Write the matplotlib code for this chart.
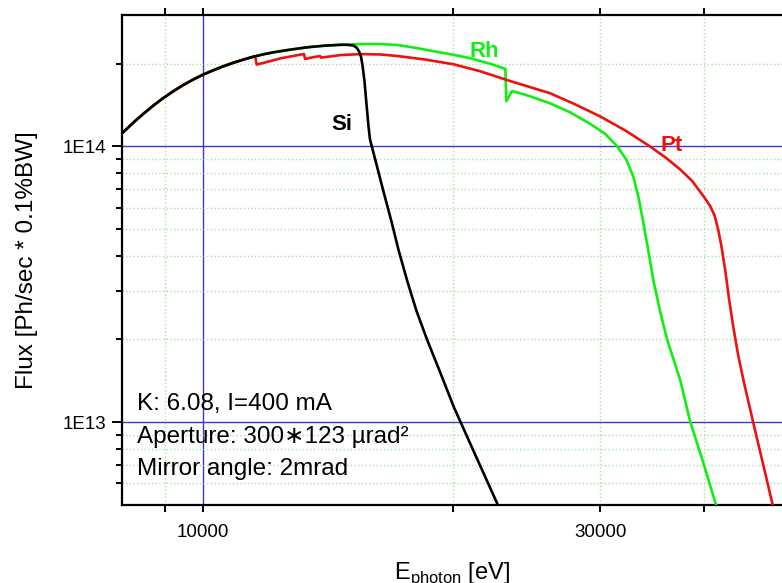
import matplotlib
matplotlib.use('Agg')
import matplotlib.pyplot as plt
from matplotlib.ticker import FixedLocator, FixedFormatter

plt.rcParams['font.family'] = ['Liberation Sans', 'DejaVu Sans']
plt.rcParams['mathtext.fontset'] = 'custom'
plt.rcParams['mathtext.rm'] = 'Liberation Sans'

# photon energy [eV] and flux [Ph/sec * 0.1%BW]
# (all three mirrors coincide below the Pt L3 edge)
e_si = [8020, 8243, 8474, 8710, 8953, 9205, 9463, 9728, 10000, 10280, 10568,
        10864, 11168, 11514, 11836, 12167, 12752, 13364, 13966, 14637, 14923,
        15173, 15299, 15405, 15490, 15554, 15640, 15727, 15814, 15880, 16168,
        16483, 16851, 17180, 17598, 18056, 18597, 19291, 20012, 21250, 22561]
f_si = [1.124e14, 1.216e14, 1.309e14, 1.402e14, 1.494e14, 1.582e14, 1.667e14,
        1.746e14, 1.820e14, 1.887e14, 1.950e14, 2.009e14, 2.063e14, 2.119e14,
        2.161e14, 2.197e14, 2.247e14, 2.291e14, 2.320e14, 2.339e14, 2.338e14,
        2.324e14, 2.285e14, 2.215e14, 2.116e14, 1.970e14, 1.723e14, 1.421e14,
        1.182e14, 1.060e14, 8.60e13, 6.86e13, 5.34e13, 4.22e13, 3.256e13,
        2.533e13, 1.987e13, 1.508e13, 1.137e13, 7.59e12, 5.08e12]

e_rh = [8020, 8243, 8474, 8710, 8953, 9205, 9463, 9728, 10000, 10280, 10568,
        10864, 11168, 11514, 11836, 12167, 12752, 13364, 13966, 14637, 15173,
        15760, 16346, 17122, 18002, 19026, 20012, 20958, 22148, 23084, 23148,
        23515, 24059, 24733, 26141, 27627, 29199, 30436, 31460, 32251, 32880,
        33365, 33754, 34175, 34746, 35425, 36116, 37436, 38485, 39923, 41347]
f_rh = [1.124e14, 1.216e14, 1.309e14, 1.402e14, 1.494e14, 1.582e14, 1.667e14,
        1.746e14, 1.820e14, 1.887e14, 1.950e14, 2.009e14, 2.063e14, 2.119e14,
        2.161e14, 2.197e14, 2.247e14, 2.291e14, 2.320e14, 2.339e14, 2.349e14,
        2.355e14, 2.353e14, 2.335e14, 2.281e14, 2.210e14, 2.151e14, 2.089e14,
        1.995e14, 1.913e14, 1.461e14, 1.589e14, 1.559e14, 1.520e14, 1.433e14,
        1.329e14, 1.207e14, 1.110e14, 1.0e14, 8.97e13, 7.78e13, 6.52e13,
        5.43e13, 4.40e13, 3.284e13, 2.512e13, 1.987e13, 1.421e13, 1.003e13,
        7.08e12, 4.99e12]

e_pt = [8020, 8243, 8474, 8710, 8953, 9205, 9463, 9728, 10000, 10280, 10568,
        10864, 11168, 11514, 11562, 11610, 11902, 12405, 13228, 13272, 13550,
        13834, 13873, 14637, 15469, 16346, 17122, 18510, 20012, 21544, 23407,
        26141, 28011, 30009, 32162, 34446, 36016, 37436, 38698, 39923, 40668,
        41176, 41576, 41922, 42388, 42858, 43370, 43937, 44582, 45831, 47072,
        48349]
f_pt = [1.124e14, 1.216e14, 1.309e14, 1.402e14, 1.494e14, 1.582e14, 1.667e14,
        1.746e14, 1.820e14, 1.887e14, 1.950e14, 2.009e14, 2.063e14, 2.119e14,
        2.115e14, 1.982e14, 2.020e14, 2.089e14, 2.166e14, 2.077e14, 2.107e14,
        2.128e14, 2.101e14, 2.146e14, 2.164e14, 2.157e14, 2.130e14, 2.067e14,
        1.987e14, 1.874e14, 1.727e14, 1.559e14, 1.421e14, 1.285e14, 1.143e14,
        1.0e14, 9.08e13, 8.25e13, 7.49e13, 6.60e13, 6.08e13, 5.61e13, 4.99e13,
        4.40e13, 3.57e13, 2.78e13, 2.197e13, 1.752e13, 1.421e13, 9.89e12,
        7.04e12, 4.99e12]

x_major = [10000]
x_minor = [9000, 20000, 30000, 40000]
x_minor_labels = ['', '', '30000', '']
y_major = [1e13, 1e14]
y_major_labels = ['1E13', '1E14']
y_minor = [6e12, 7e12, 8e12, 9e12, 2e13, 3e13, 4e13, 5e13, 6e13, 7e13, 8e13,
           9e13, 2e14]

fig = plt.figure(figsize=(7.82, 5.83), dpi=100)
ax = fig.add_axes([122 / 782, 78 / 583, 660 / 782, 490 / 583])

ax.plot(e_rh, f_rh, color='#11ee11', lw=1.9, zorder=3)
ax.plot(e_pt, f_pt, color='#ee1111', lw=1.9, zorder=4)
ax.plot(e_si, f_si, color='black', lw=1.9, zorder=5)

ax.set_xscale('log')
ax.set_yscale('log')
ax.set_xlim(8000, 49600)
ax.set_ylim(5e12, 3e14)

ax.xaxis.set_major_locator(FixedLocator(x_major))
ax.xaxis.set_major_formatter(FixedFormatter(['10000']))
ax.xaxis.set_minor_locator(FixedLocator(x_minor))
ax.xaxis.set_minor_formatter(FixedFormatter(x_minor_labels))
ax.yaxis.set_major_locator(FixedLocator(y_major))
ax.yaxis.set_major_formatter(FixedFormatter(y_major_labels))
ax.yaxis.set_minor_locator(FixedLocator(y_minor))
ax.yaxis.set_minor_formatter(FixedFormatter([''] * len(y_minor)))

ax.grid(which='major', color='#3838d0', lw=1.0, ls='-', zorder=1)
ax.grid(which='minor', color='#a8e0a8', lw=1.0, ls=':', zorder=1)
ax.set_axisbelow(True)

for s in ['left', 'bottom', 'top']:
    ax.spines[s].set_linewidth(1.6)
ax.spines['right'].set_visible(False)

ax.tick_params(axis='x', which='both', direction='out', top=True, length=5,
               width=1.4, labelsize=13.5, pad=9)
ax.tick_params(axis='y', which='major', direction='out', length=7, width=1.4,
               labelsize=13.5, pad=4)
ax.tick_params(axis='y', which='minor', direction='out', length=4, width=1.4)

ax.set_ylabel('Flux [Ph/sec * 0.1%BW]', fontsize=17.5)
ax.yaxis.set_label_coords(-0.128, 0.5)
fig.text(452 / 782, 4 / 583, r'E$_{\mathregular{photon}}$ [eV]', fontsize=17,
         ha='center', va='baseline')

ax.text(14680, 1.2e14, 'Si', fontsize=16, fontweight='bold', color='black',
        ha='center', va='center')
ax.text(21790, 2.215e14, 'Rh', fontsize=16, fontweight='bold', color='#11ee11',
        ha='center', va='center')
ax.text(36600, 1.01e14, 'Pt', fontsize=16, fontweight='bold', color='#ee1111',
        ha='center', va='center')

notes = ['K: 6.08, I=400 mA',
         'Aperture: 300\u2217123 \u00b5rad\u00b2',
         'Mirror angle: 2mrad']
for i, t in enumerate(notes):
    ax.text(0.0227, 0.206 - i * 0.0665, t, transform=ax.transAxes, fontsize=17.5,
            ha='left', va='center')

fig.savefig('out.png', dpi=100)
